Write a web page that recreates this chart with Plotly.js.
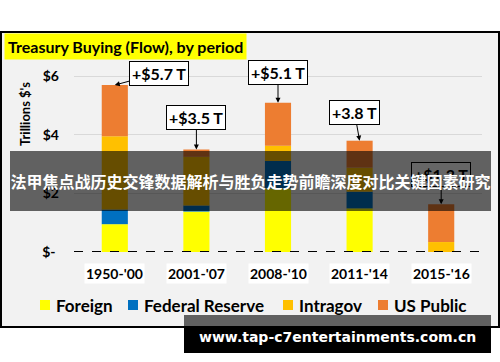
<!DOCTYPE html>
<html>
<head>
<meta charset="utf-8">
<script src="https://cdn.plot.ly/plotly-3.0.1.min.js"></script>
<style>
  html, body { margin: 0; padding: 0; background: #ffffff; }
  #chart { width: 500px; height: 362px; }
</style>
</head>
<body>
<div id="chart"></div>
<script>
// Treasury buying by holder group, trillions of dollars per period
const categories = ["1950-'00", "2001-'07", "2008-'10", "2011-'14", "2015-'16"];
const foreign    = [0.95, 1.38, 2.17, 1.49, -0.33];
const fedReserve = [0.50, 0.21, 0.94, 0.57, 0.00];
const intragov   = [2.50, 1.66, 0.52, 0.82, 0.34];
const usPublic   = [1.75, 0.25, 1.47, 0.92, 1.29];
const labelPrefixes = ['+$', '+$', '+$', '+', '+$'];
const yTickVals  = [0, 2, 4, 6];
const yTickText  = ['$-\u00a0', '$2', '$4', '$6'];

const seriesNames  = ['Foreign', 'Federal Reserve', 'Intragov', 'US Public'];
const seriesValues = [foreign, fedReserve, intragov, usPublic];
const seriesColors = ['#ffff00', '#0070c0', '#ffc000', '#ed7d31'];

// page geometry
const W = 500, H = 362;
const M = { l: 74, r: 18, t: 47, b: 110 };
const px = x => (x - M.l) / (W - M.l - M.r);
const py = y => (H - M.b - y) / (H - M.t - M.b);

const FONT = 'Lato, "Open Sans", sans-serif';

const traces = seriesNames.map((name, i) => ({
  type: 'bar',
  name: name,
  x: categories,
  y: seriesValues[i],
  marker: { color: seriesColors[i], line: { width: 0 } },
  showlegend: false,
  hoverinfo: 'skip'
}));

// net change per period and the top of the stacked positive segments
const netTotals = categories.map((_, j) => seriesValues.reduce((s, v) => s + v[j], 0));
const stackTops = categories.map((_, j) => seriesValues.reduce((s, v) => s + Math.max(0, v[j]), 0));

// callout box offsets from the arrow tip (pixels)
const calloutOffsets = [[44, -12], [0, -32], [0, -30], [-5, -28], [0, -30]];

const annotations = [];

categories.forEach((c, j) => {
  annotations.push({
    x: c, y: stackTops[j], xref: 'x', yref: 'y',
    text: labelPrefixes[j] + netTotals[j].toFixed(1) + ' T',
    showarrow: true, arrowhead: 2, arrowsize: 1, arrowwidth: 1, arrowcolor: '#000',
    ax: calloutOffsets[j][0], ay: calloutOffsets[j][1],
    bgcolor: '#ffffff', bordercolor: '#000000', borderwidth: 1, borderpad: 2,
    font: { family: FONT, size: 16, color: '#000', weight: 'bold' }
  });
  // period labels on white chips under the bars
  annotations.push({
    x: c, y: py(273), xref: 'x', yref: 'paper', xanchor: 'center', yanchor: 'middle',
    text: c, showarrow: false, bgcolor: '#ffffff', borderpad: 1,
    font: { family: FONT, size: 14, color: '#000', weight: 'bold' }
  });
});

// title on a yellow highlight
annotations.push({
  x: px(4), y: py(46), xref: 'paper', yref: 'paper', xanchor: 'left', yanchor: 'middle',
  text: 'Treasury Buying (Flow), by period', showarrow: false,
  bgcolor: '#ffff00', borderpad: 3,
  font: { family: FONT, size: 16, color: '#000', weight: 'bold' }
});

// vertical axis caption
annotations.push({
  x: px(25), y: py(114), xref: 'paper', yref: 'paper', xanchor: 'center', yanchor: 'middle',
  text: "Trillions $'s", textangle: -90, showarrow: false,
  font: { family: FONT, size: 13, color: '#000', weight: 'bold' }
});

// legend row
const legendSquares = [40, 128, 283, 378];
const shapes = [];
seriesNames.forEach((name, i) => {
  shapes.push({
    type: 'rect', xref: 'paper', yref: 'paper', layer: 'above',
    x0: px(legendSquares[i]), x1: px(legendSquares[i] + 10),
    y0: py(300), y1: py(310),
    fillcolor: seriesColors[i], line: { width: 0 }
  });
  annotations.push({
    x: px(legendSquares[i] + 14), y: py(305), xref: 'paper', yref: 'paper',
    xanchor: 'left', yanchor: 'middle', text: name, showarrow: false,
    font: { family: FONT, size: 17, color: '#000', weight: 'bold' }
  });
});

// chart frame
shapes.unshift({
  type: 'rect', xref: 'paper', yref: 'paper', layer: 'below',
  x0: px(1), x1: px(499), y0: py(327), y1: py(32),
  fillcolor: '#f2f2f2', line: { color: '#000000', width: 2 }
});

// dashed baseline
shapes.push({
  type: 'line', xref: 'paper', yref: 'y', layer: 'above',
  x0: 0, x1: 1, y0: 0, y1: 0,
  line: { color: '#000000', width: 2, dash: 'dash' }
});

// headline banner, laid over everything drawn before it
annotations.push({
  x: px(250.5), y: py(181), xref: 'paper', yref: 'paper',
  xanchor: 'center', yanchor: 'middle',
  width: 481, height: 60, borderpad: 0, borderwidth: 0,
  bgcolor: 'rgba(0,0,0,0.6)',
  text: '法甲焦点战历史交锋数据解析与胜负走势前瞻深度对比关键因素研究', showarrow: false,
  font: { family: '"Noto Sans CJK SC", sans-serif', size: 16, color: '#ffffff', weight: 'bold' }
});

// site tag
shapes.push({
  type: 'rect', xref: 'paper', yref: 'paper', layer: 'above',
  x0: px(184), x1: px(491), y0: py(327.5), y1: py(315),
  fillcolor: 'rgba(0,0,0,0.6)', line: { width: 0 }
});
shapes.push({
  type: 'rect', xref: 'paper', yref: 'paper', layer: 'above',
  x0: px(184), x1: px(491), y0: py(353), y1: py(327.5),
  fillcolor: '#000000', line: { width: 0 }
});
annotations.push({
  x: px(337), y: py(337), xref: 'paper', yref: 'paper', xanchor: 'center', yanchor: 'middle',
  text: 'www.tap-c7entertainments.com.cn', showarrow: false,
  font: { family: '"DejaVu Sans", sans-serif', size: 14, color: '#ffffff', weight: 'bold' }
});

const layout = {
  width: W, height: H,
  margin: M,
  paper_bgcolor: '#ffffff',
  plot_bgcolor: 'rgba(0,0,0,0)',
  barmode: 'relative',
  bargap: 0.68,
  showlegend: false,
  xaxis: {
    type: 'category', range: [-0.5, 4.5],
    showticklabels: false, showgrid: false, zeroline: false, showline: false, ticks: ''
  },
  yaxis: {
    range: [0, 7], tickvals: yTickVals, ticktext: yTickText,
    showgrid: true, gridcolor: '#d9d9d9', gridwidth: 1,
    zeroline: false, showline: false, ticks: '', ticklabelstandoff: 14,
    tickfont: { family: FONT, size: 14, color: '#000', weight: 'bold' }
  },
  shapes: shapes,
  annotations: annotations
};

Plotly.newPlot('chart', traces, layout, { displayModeBar: false, staticPlot: true });
</script>
</body>
</html>
